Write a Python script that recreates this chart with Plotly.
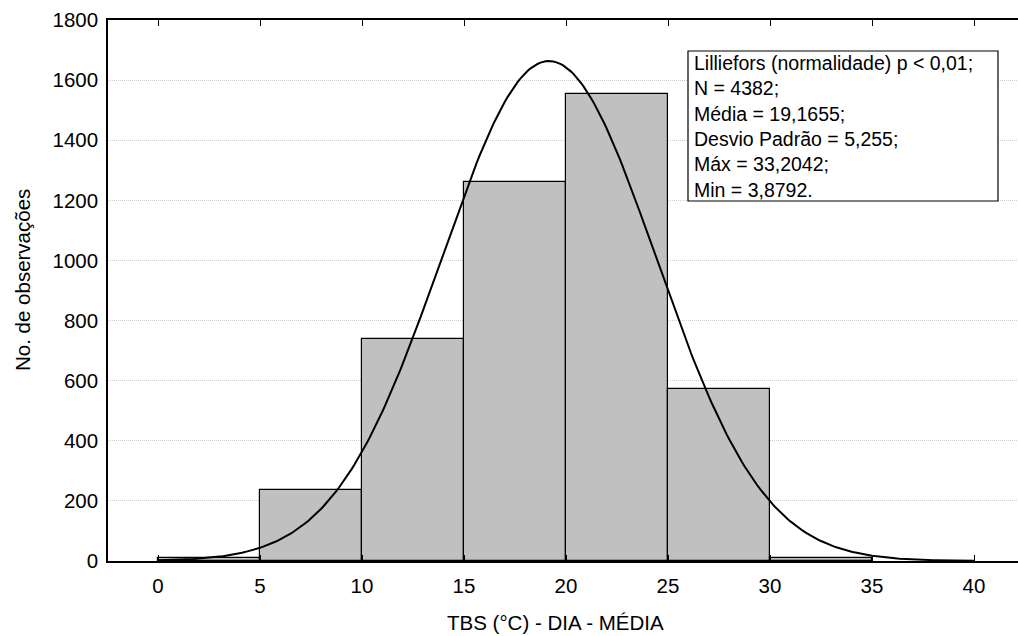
import numpy as np
import plotly.graph_objects as go

# Histogram data (bins of 5 °C)
bin_left = [0, 5, 10, 15, 20, 25, 30]
counts = [10, 236, 738, 1262, 1553, 573, 10]
bin_width = 5

# Fitted normal parameters (from the chart's annotation)
N = 4382
mean = 19.1655
sd = 5.255

stats_lines = [
    "Lilliefors (normalidade) p < 0,01;",
    "N = 4382;",
    "Média = 19,1655;",
    "Desvio Padrão = 5,255;",
    "Máx = 33,2042;",
    "Min = 3,8792.",
]

x_ticks = [0, 5, 10, 15, 20, 25, 30, 35, 40]
y_ticks = [0, 200, 400, 600, 800, 1000, 1200, 1400, 1600, 1800]

# Expected normal curve scaled to counts
xc = np.linspace(0, 40, 321)
yc = N * bin_width / (sd * np.sqrt(2 * np.pi)) * np.exp(-0.5 * ((xc - mean) / sd) ** 2)

FONT = "Liberation Sans, Arial, sans-serif"
FS = 20.5

fig = go.Figure()
fig.add_trace(go.Bar(
    x=[b + bin_width / 2 for b in bin_left],
    y=counts,
    width=bin_width,
    marker=dict(color="#c0c0c0", line=dict(color="black", width=1.2)),
    hoverinfo="x+y",
))
fig.add_trace(go.Scatter(
    x=xc, y=yc, mode="lines",
    line=dict(color="black", width=2),
))

# px->data helpers for layout placement
W, H = 1018, 636
ml, mr, mt, mb = 108, 0, 20, 75
xr = [-2.451, 42.157]
yr = [0, 1800]

def px_to_x(px):
    return xr[0] + (px - ml) / (W - ml - mr) * (xr[1] - xr[0])

def px_to_y(py):
    return yr[1] - (py - mt) / (H - mt - mb) * (yr[1] - yr[0])

fig.add_shape(type="rect", xref="x", yref="y",
              x0=px_to_x(688), x1=px_to_x(998),
              y0=px_to_y(201), y1=px_to_y(51),
              line=dict(color="black", width=1.2), fillcolor="white", layer="above")

fig.add_annotation(
    x=px_to_x(692), y=px_to_y(126), xref="x", yref="y",
    text="<br>".join(stats_lines), showarrow=False,
    xanchor="left", yanchor="middle", align="left",
    font=dict(family=FONT, size=19.5, color="black"),
)

fig.add_annotation(
    x=(555 - ml) / (W - ml - mr), y=-(622 - (H - mb)) / (H - mt - mb),
    xref="paper", yref="paper", text="TBS (°C) - DIA - MÉDIA",
    showarrow=False, xanchor="center", yanchor="middle",
    font=dict(family=FONT, size=FS, color="black"),
)
fig.add_annotation(
    x=(22 - ml) / (W - ml - mr), y=(H - mb - 280) / (H - mt - mb),
    xref="paper", yref="paper", text="No. de observações", textangle=-90,
    showarrow=False, xanchor="center", yanchor="middle",
    font=dict(family=FONT, size=FS, color="black"),
)

fig.update_layout(
    width=W, height=H,
    margin=dict(l=ml, r=mr, t=mt, b=mb),
    paper_bgcolor="white", plot_bgcolor="white",
    showlegend=False,
    bargap=0,
    font=dict(family=FONT, size=FS, color="black"),
    xaxis=dict(
        range=xr, tickvals=x_ticks, ticktext=[str(v) for v in x_ticks],
        ticks="inside", ticklen=6, tickcolor="black", tickwidth=1,
        showline=True, linecolor="black", linewidth=1.5, mirror="ticks",
        showgrid=False, zeroline=False, ticklabelstandoff=6,
        tickfont=dict(family=FONT, size=FS),
    ),
    yaxis=dict(
        range=yr, tickvals=y_ticks, ticktext=[str(v) for v in y_ticks],
        ticks="", showline=True, linecolor="black", linewidth=1.5,
        showgrid=True, gridcolor="#cfcfcf", griddash="1px,1px", gridwidth=1,
        zeroline=False, ticklabelstandoff=4,
        tickfont=dict(family=FONT, size=FS),
    ),
)

fig.write_html("out.html")
